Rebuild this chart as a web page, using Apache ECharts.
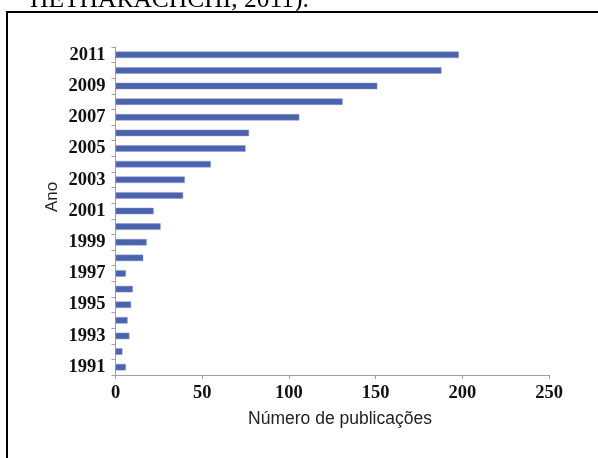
<!DOCTYPE html>
<html><head><meta charset="utf-8">
<script src="https://cdn.jsdelivr.net/npm/echarts@6/dist/echarts.min.js"></script>
<style>html,body{margin:0;padding:0;background:#fff}#c{width:598px;height:458px}</style>
</head><body><div id="c"></div>
<script>
const years = ['1991','1992','1993','1994','1995','1996','1997','1998','1999','2000','2001','2002','2003','2004','2005','2006','2007','2008','2009','2010','2011'];
const publications = [6,4,8,7,9,10,6,16,18,26,22,39,40,55,75,77,106,131,151,188,198];
const xTicks = [0,50,100,150,200,250];
const xTitle = 'Número de publicações';
const yTitle = 'Ano';
const captionText = 'HETHARACHCHI, 2011).';

const chart = echarts.init(document.getElementById('c'), null, {renderer:'canvas'});
chart.setOption({
  animation:false,
  backgroundColor:'#fff',
  grid:{left:115.5, right:49, top:47, bottom:83},
  xAxis:{
    type:'value', min:xTicks[0], max:xTicks[xTicks.length-1], interval:50,
    axisLine:{show:true, lineStyle:{color:'#a0a0a0', width:1}},
    axisTick:{show:true, length:4, lineStyle:{color:'#a0a0a0'}},
    splitLine:{show:false},
    axisLabel:{fontFamily:'Liberation Serif', fontWeight:'bold', fontSize:18.5, color:'#111', margin:9}
  },
  yAxis:{
    type:'category', data:years,
    axisLine:{show:true, lineStyle:{color:'#a0a0a0', width:1}},
    axisTick:{show:true, interval:0, length:4, alignWithLabel:false, lineStyle:{color:'#a0a0a0'}},
    axisLabel:{interval:1, fontFamily:'Liberation Serif', fontWeight:'bold', fontSize:18.5, color:'#111', margin:10}
  },
  series:[{
    type:'bar', data:publications, barWidth:6.5,
    itemStyle:{color:'#4b62ad', borderColor:'#8a9bd0', borderWidth:0.5}
  }],
  graphic:[
    {type:'text', x:30, y:-13, style:{text:captionText, font:'25.5px "Liberation Serif"', fill:'#000'}},
    {type:'line', shape:{x1:6, y1:12, x2:598, y2:12}, style:{stroke:'#000', lineWidth:2}},
    {type:'line', shape:{x1:7, y1:11, x2:7, y2:458}, style:{stroke:'#000', lineWidth:2}},
    {type:'text', x:340, y:419, style:{text:xTitle, font:'17.5px "Liberation Sans"', fill:'#222', align:'center', verticalAlign:'middle'}},
    {type:'text', x:52.5, y:197, rotation:Math.PI/2, style:{text:yTitle, font:'17px "Liberation Sans"', fill:'#222', align:'center', verticalAlign:'middle'}}
  ]
});
</script></body></html>
